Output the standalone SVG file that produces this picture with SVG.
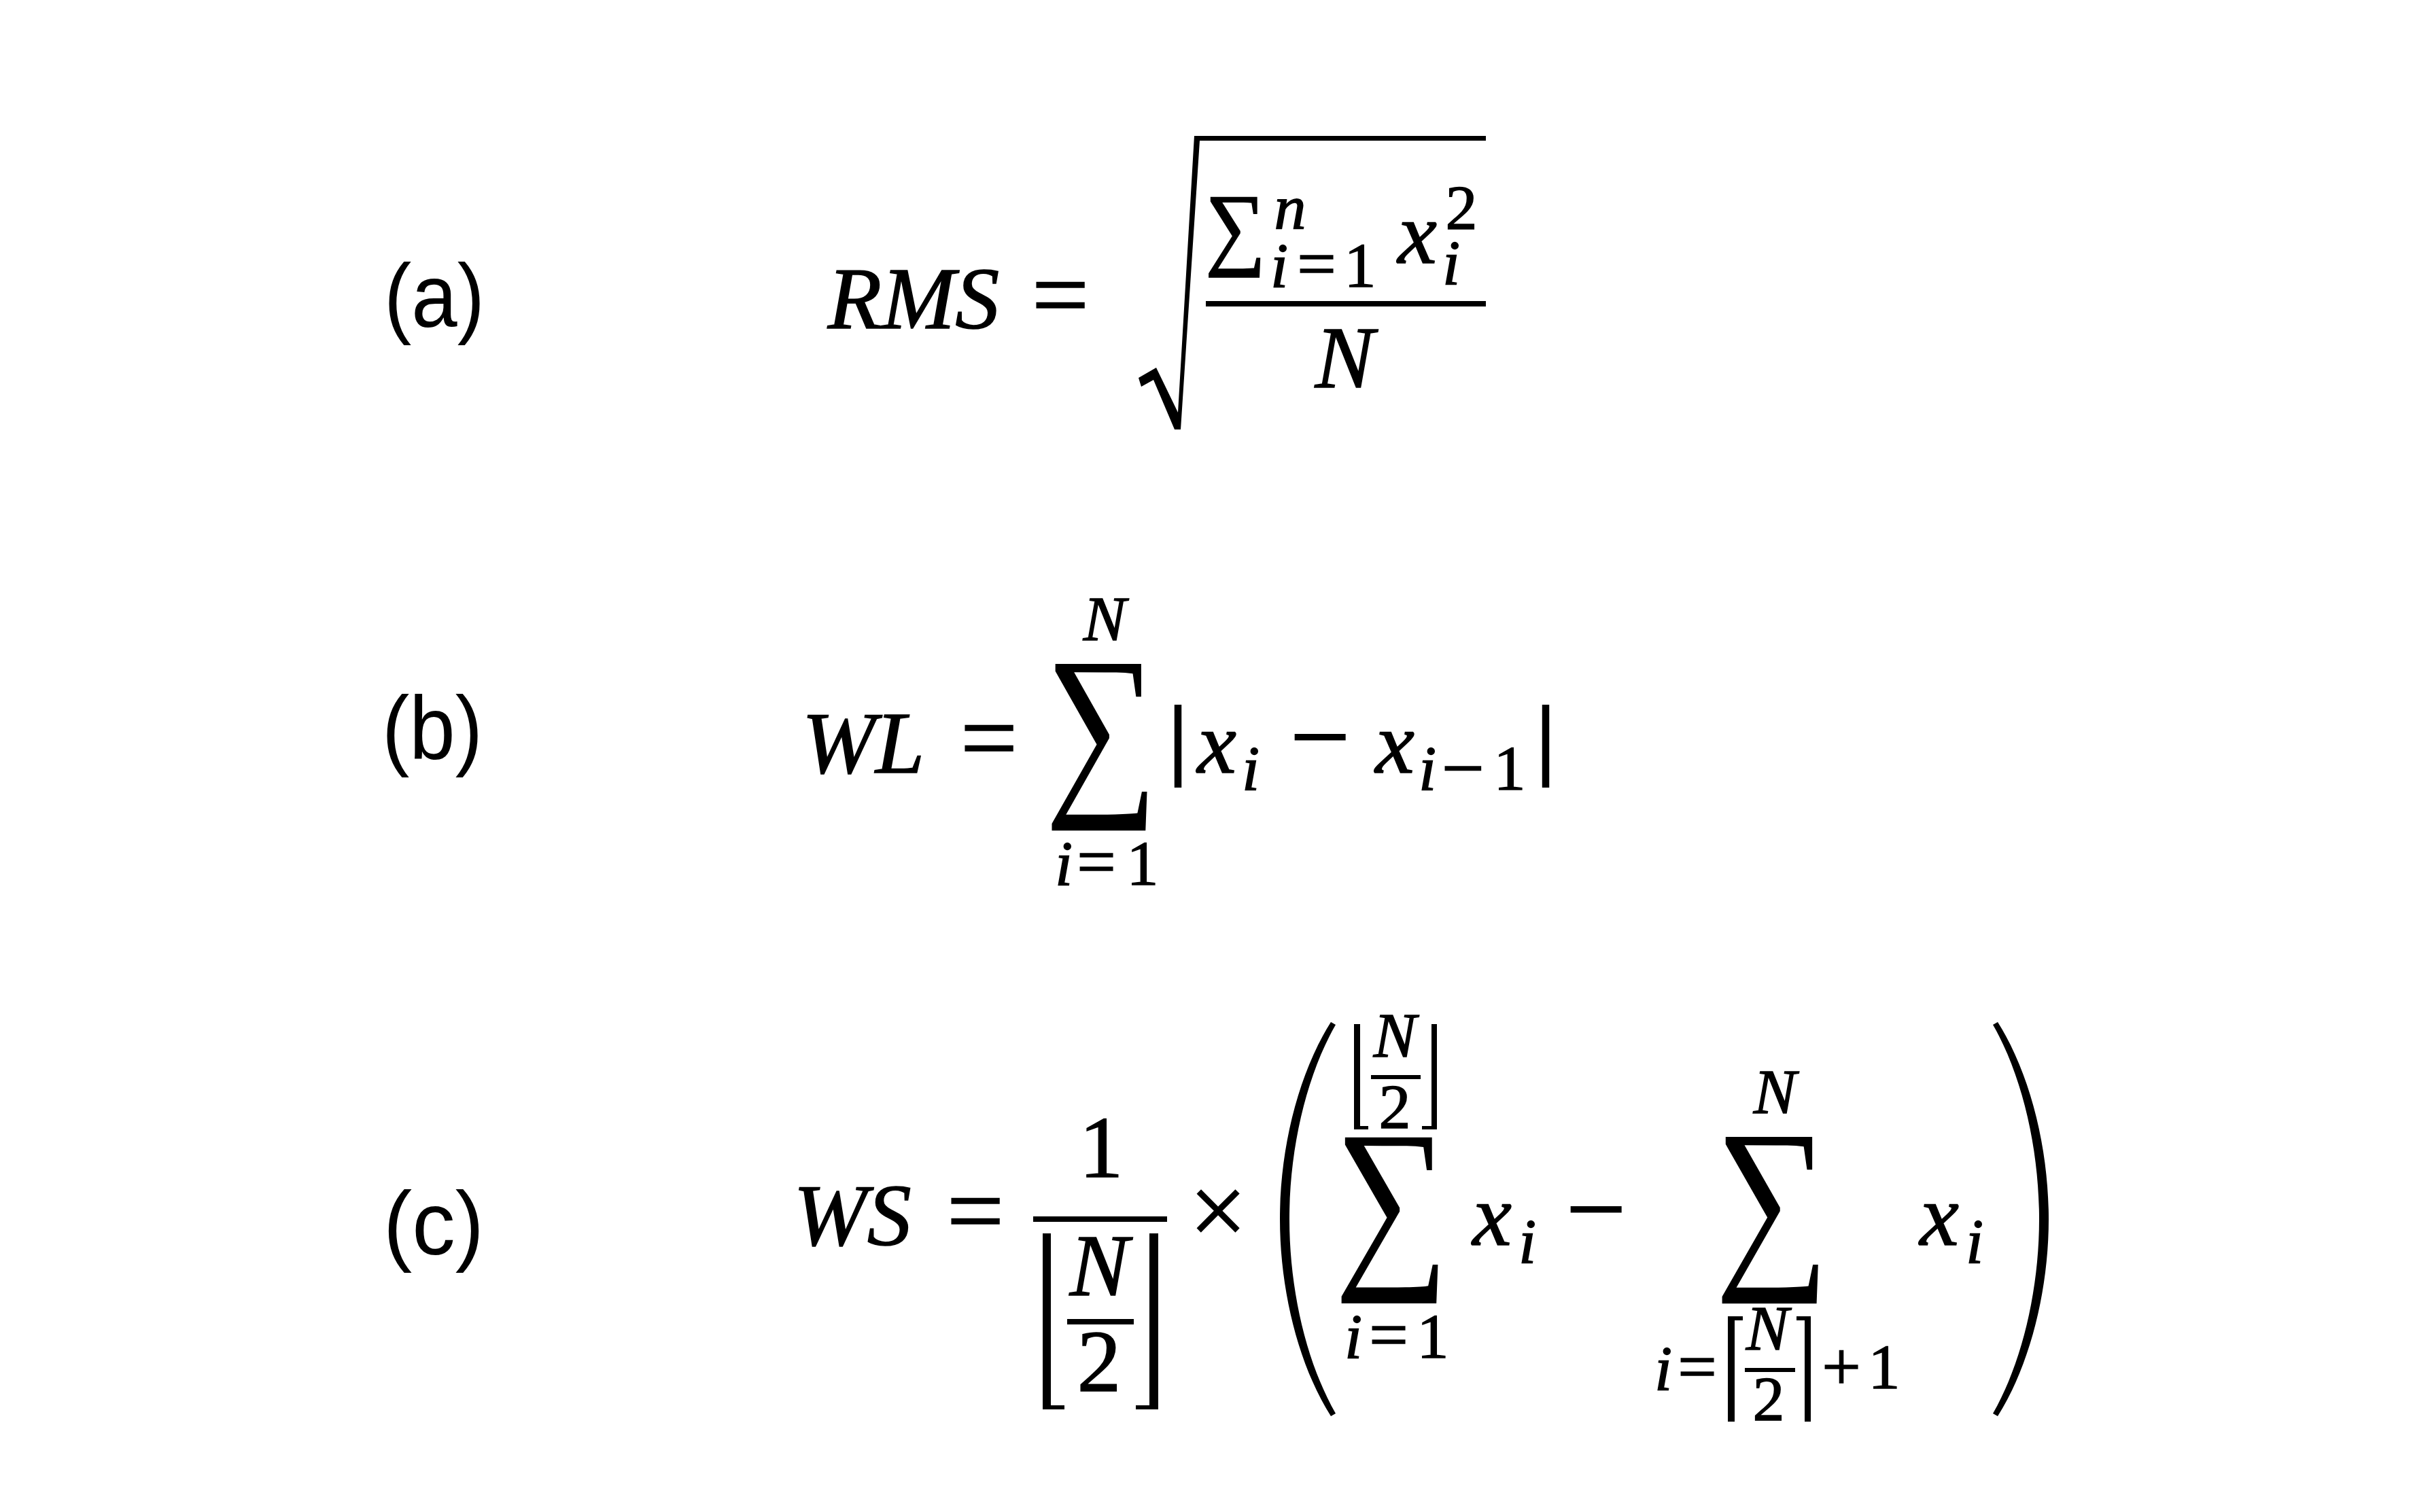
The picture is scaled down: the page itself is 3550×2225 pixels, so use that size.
<svg xmlns="http://www.w3.org/2000/svg" width="3550" height="2225" viewBox="0 0 3550 2225">
<style>
.t{font-family:"Liberation Serif","DejaVu Serif",serif;text-anchor:middle;fill:#000;stroke:#000;stroke-width:1.5}
.v{font-family:"Liberation Serif","DejaVu Serif",serif;font-style:italic;text-anchor:middle;fill:#000;stroke:#000;stroke-width:1.5}
.u{font-family:"Liberation Serif","DejaVu Serif",serif;font-style:normal;text-anchor:middle;fill:#000;stroke:#000;stroke-width:1.5}
.op{font-family:"Liberation Serif","DejaVu Serif",serif;text-anchor:start;fill:#000}
.L{font-size:130px}
.s{font-size:94px}
.eq{font-size:150px}
.mn{font-size:158px}
.se{font-size:102px}
.lbl{font-family:"Liberation Sans",Arial,sans-serif;font-size:131px;text-anchor:middle;fill:#000}
.k{fill:#000;stroke:none}
</style>
<rect width="3550" height="2225" fill="#fff"/>

<g id="labels">
<text class="lbl" x="639" y="481" textLength="148" lengthAdjust="spacingAndGlyphs">(a)</text>
<text class="lbl" x="636" y="1117" textLength="148" lengthAdjust="spacingAndGlyphs">(b)</text>
<text class="lbl" x="638" y="1846" textLength="148" lengthAdjust="spacingAndGlyphs">(c)</text>
</g>

<g id="eq-a">
<text class="v L" x="1344" y="483">RMS</text>
<text class="u eq" x="1560" y="484">=</text>
<polygon class="k" points="1675,556 1701,541 1733,607 1757,200 2186,200 2186,207 1765,207 1737,632 1728,632 1697,559 1679,569"/>
<text class="op" transform="translate(1773.5,379) scale(1,1.085)" font-size="124" stroke="#000" stroke-width="2">∑</text>
<text class="t"><tspan class="v s" x="1898" y="337">n</tspan><tspan class="v s" x="1882" y="422">i</tspan><tspan class="u se" x="1937" y="422">=</tspan><tspan class="u s" x="2001" y="422">1</tspan><tspan class="v L" x="2085" y="387">x</tspan><tspan class="u s" x="2150" y="337">2</tspan><tspan class="v s" x="2135" y="418">i</tspan></text>
<rect class="k" x="1774" y="443" width="412" height="8"/>
<text class="v L" x="1978" y="570">N</text>
</g>

<g id="eq-b">
<text class="v L" x="1270" y="1137">WL</text>
<text class="u eq" x="1455" y="1136">=</text>
<text class="op" transform="translate(1537,1162) scale(1,1.208)" font-size="234">∑</text>
<text class="v s" x="1625" y="942">N</text>
<text class="t"><tspan class="v s" x="1565" y="1302">i</tspan><tspan class="u se" x="1613" y="1302">=</tspan><tspan class="u s" x="1681" y="1302">1</tspan></text>
<text class="t"><tspan class="u L" x="1733" y="1129" style="stroke-width:4">|</tspan><tspan class="v L" x="1790" y="1137">x</tspan><tspan class="v s" x="1840" y="1162">i</tspan><tspan class="u mn" x="1942" y="1137">−</tspan><tspan class="v L" x="2052" y="1137">x</tspan><tspan class="v s" x="2100" y="1162">i</tspan><tspan class="u" x="2152" y="1168" style="font-size:112px">−</tspan><tspan class="u s" x="2221" y="1162">1</tspan><tspan class="u L" x="2274" y="1129" style="stroke-width:4">|</tspan></text>
</g>

<g id="eq-c">
<text class="v L" x="1254" y="1832">WS</text>
<text class="u eq" x="1435" y="1832">=</text>
<rect class="k" x="1520" y="1790" width="197" height="8"/>
<path class="k" d="M1534,1815 h12 v253 h20 v6 h-32 z"/>
<path class="k" d="M1704,1815 h-13 v253 h-20 v6 h33 z"/>
<text class="t"><tspan class="u L" x="1620" y="1732">1</tspan><tspan class="v L" x="1617" y="1906">N</tspan><tspan class="u L" x="1617" y="2047">2</tspan></text>
<rect class="k" x="1570" y="1941" width="98" height="8"/>
<text class="u" x="1792" y="1832" font-size="150">×</text>
<path class="k" d="M1958,1504 C1910,1580 1883,1690 1883,1794 C1883,1898 1910,2008 1958,2084 L1965,2080 C1922,2005 1897,1898 1897,1794 C1897,1690 1922,1583 1965,1508 Z"/>
<text class="op" transform="translate(1963,1858) scale(1,1.188)" font-size="237">∑</text>
<path class="k" d="M1992,1507 h9 v150 h12 v5 h-21 z"/>
<path class="k" d="M2114,1507 h-8 v150 h-14 v5 h22 z"/>
<text class="t"><tspan class="v s" x="2052" y="1555">N</tspan><tspan class="u s" x="2052" y="1660">2</tspan></text>
<rect class="k" x="2017" y="1582" width="73" height="6"/>
<text class="t"><tspan class="v s" x="1991" y="1998">i</tspan><tspan class="u se" x="2043" y="1998">=</tspan><tspan class="u s" x="2108" y="1998">1</tspan></text>
<text class="t"><tspan class="v L" x="2195" y="1832">x</tspan><tspan class="v s" x="2247" y="1858">i</tspan><tspan class="u mn" x="2348" y="1832">−</tspan></text>
<text class="op" transform="translate(2523,1858) scale(1,1.198)" font-size="236">∑</text>
<text class="v s" x="2611" y="1638">N</text>
<path class="k" d="M2542,2092 v-155 h22 v6 h-12 v149 z"/>
<path class="k" d="M2664,2092 v-155 h-21 v6 h12 v149 z"/>
<text class="t"><tspan class="v s" x="2447" y="2045">i</tspan><tspan class="u se" x="2497" y="2045">=</tspan><tspan class="v s" x="2600" y="1986">N</tspan><tspan class="u s" x="2602" y="2090">2</tspan><tspan class="u se" x="2709" y="2045">+</tspan><tspan class="u s" x="2772" y="2043">1</tspan></text>
<rect class="k" x="2567" y="2013" width="74" height="6"/>
<text class="t"><tspan class="v L" x="2853" y="1832">x</tspan><tspan class="v s" x="2905" y="1858">i</tspan></text>
<path class="k" d="M2939,1504 C2987,1580 3014,1690 3014,1794 C3014,1898 2987,2008 2939,2084 L2932,2080 C2975,2005 3000,1898 3000,1794 C3000,1690 2975,1583 2932,1508 Z"/>
</g>
</svg>
